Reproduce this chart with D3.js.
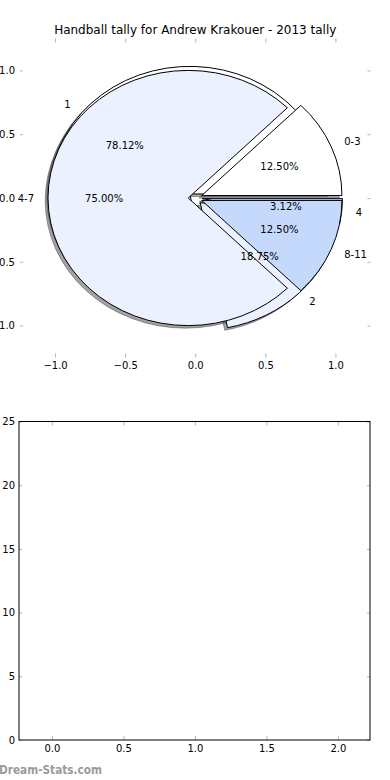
<!DOCTYPE html>
<html><head><meta charset="utf-8">
<script src="https://cdn.jsdelivr.net/npm/d3@7"></script>
<style>body{margin:0;background:#fff} svg{display:block} text{font-family:"DejaVu Sans",sans-serif}</style>
</head><body>
<script>
const title = "Handball tally for Andrew Krakouer - 2013 tally";
const pie1Labels = ["1", "2", "4"];
const pie1Values = [25, 6, 1];
const pie2Labels = ["0-3", "4-7", "8-11"];
const pie2Values = [4, 24, 4];
const pieColors = ["#FFFFFF", "#EBF1FE", "#C5D9FD"];
const pieTicks = [-1.0, -0.5, 0.0, 0.5, 1.0];
const barXTicks = [0.0, 0.5, 1.0, 1.5, 2.0];
const barYTicks = [0, 5, 10, 15, 20, 25];
const watermark = "Dream-Stats.com";

const W = 390, H = 780;
const svg = d3.select("body").append("svg").attr("width", W).attr("height", H);

// ---------- Pie axes ----------
const px = d3.scaleLinear().domain([-1.25, 1.25]).range([20, 370.5]);
const py = d3.scaleLinear().domain([-1.25, 1.25]).range([357.5, 38.5]);
const kx = px(1) - px(0), ky = py(0) - py(1);
const explode = 0.05, shadowOff = -0.02;

svg.append("text").attr("x", (px.range()[0] + px.range()[1]) / 2).attr("y", 34)
  .attr("text-anchor", "middle").attr("font-size", 12).text(title);

function fmtPct(p) {
  const s = p * 100, f = Math.floor(s);
  let r = Math.abs(s - f - 0.5) < 1e-9 ? (f % 2 === 0 ? f : f + 1) : Math.round(s);
  return (r / 100).toFixed(2) + "%";
}

const pieGen = d3.pie().sort(null).startAngle(Math.PI / 2).endAngle(Math.PI / 2 - 2 * Math.PI);
const arcGen = d3.arc().innerRadius(0).outerRadius(1);

function build(labels, values) {
  const total = d3.sum(values);
  return pieGen(values).map((a, i) => {
    const mid = (a.startAngle + a.endAngle) / 2;
    const ox = explode * Math.sin(mid), oy = explode * Math.cos(mid);
    return {a, i, label: labels[i], color: pieColors[i], mid, ox, oy, pct: fmtPct(100 * values[i] / total)};
  });
}
const pies = [build(pie1Labels, pie1Values), build(pie2Labels, pie2Values)];
const gPie = svg.append("g");

// shadows (below all wedges)
pies.forEach(p => {
  gPie.selectAll(null).data(p).join("path")
    .attr("d", d => arcGen(d.a))
    .attr("transform", d => `translate(${px(d.ox + shadowOff)},${py(d.oy + shadowOff)}) scale(${kx},${ky})`)
    .attr("fill", d => { const c = d3.rgb(d.color); return d3.rgb(c.r * 0.3, c.g * 0.3, c.b * 0.3); })
    .attr("fill-opacity", 0.5)
    .attr("stroke", d => { const c = d3.rgb(d.color); return d3.rgb(c.r * 0.3, c.g * 0.3, c.b * 0.3); })
    .attr("stroke-opacity", 0.5)
    .attr("stroke-width", 1)
    .attr("vector-effect", "non-scaling-stroke");
});
// wedges
pies.forEach(p => {
  gPie.selectAll(null).data(p).join("path")
    .attr("d", d => arcGen(d.a))
    .attr("transform", d => `translate(${px(d.ox)},${py(d.oy)}) scale(${kx},${ky})`)
    .attr("fill", d => d.color)
    .attr("stroke", "#000").attr("stroke-width", 1)
    .attr("stroke-linejoin", "miter")
    .attr("vector-effect", "non-scaling-stroke");
});
// texts
pies.forEach(p => {
  gPie.selectAll(null).data(p).join("text")
    .attr("x", d => px(d.ox + 1.1 * Math.sin(d.mid)))
    .attr("y", d => py(d.oy + 1.1 * Math.cos(d.mid)))
    .attr("dy", "0.35em").attr("font-size", 10)
    .attr("text-anchor", d => (d.ox + 1.1 * Math.sin(d.mid)) > 0 ? "start" : "end")
    .text(d => d.label);
  gPie.selectAll(null).data(p).join("text")
    .attr("x", d => px(d.ox + 0.6 * Math.sin(d.mid)))
    .attr("y", d => py(d.oy + 0.6 * Math.cos(d.mid)))
    .attr("dy", "0.35em").attr("font-size", 10).attr("text-anchor", "middle")
    .text(d => d.pct);
});

function styleAxis(g) {
  g.select(".domain").remove();
  g.selectAll(".tick line").attr("stroke", "#b5b5b5");
  g.selectAll(".tick text").attr("fill", "#000").attr("font-size", 10).attr("font-family", "DejaVu Sans");
}
const f1 = d3.format(".1f");
svg.append("g").attr("transform", `translate(0,${py.range()[0]})`)
  .call(d3.axisBottom(px).tickValues(pieTicks).tickSize(-4).tickPadding(4).tickFormat(f1)).call(styleAxis);
svg.append("g").attr("transform", `translate(0,${py.range()[1]})`)
  .call(d3.axisTop(px).tickValues(pieTicks).tickSize(-4).tickFormat("")).call(styleAxis);
svg.append("g").attr("transform", `translate(${px.range()[0]},0)`)
  .call(d3.axisLeft(py).tickValues(pieTicks).tickSize(-3).tickPadding(5).tickFormat(f1)).call(styleAxis);
svg.append("g").attr("transform", `translate(${px.range()[1]},0)`)
  .call(d3.axisRight(py).tickValues(pieTicks).tickSize(-3).tickFormat("")).call(styleAxis);

// ---------- Bottom empty axes ----------
const bx = d3.scaleLinear().domain([-0.23, 2.225]).range([19, 370]);
const by = d3.scaleLinear().domain([0, 25]).range([740, 421.5]);
svg.append("g").attr("transform", `translate(0,${by.range()[0]})`)
  .call(d3.axisBottom(bx).tickValues(barXTicks).tickSize(-4).tickPadding(5).tickFormat(f1)).call(styleAxis);
svg.append("g").attr("transform", `translate(0,${by.range()[1]})`)
  .call(d3.axisTop(bx).tickValues(barXTicks).tickSize(-4).tickFormat("")).call(styleAxis);
svg.append("g").attr("transform", `translate(${bx.range()[0]},0)`)
  .call(d3.axisLeft(by).tickValues(barYTicks).tickSize(-3).tickPadding(4).tickFormat(d3.format("d"))).call(styleAxis);
svg.append("g").attr("transform", `translate(${bx.range()[1]},0)`)
  .call(d3.axisRight(by).tickValues(barYTicks).tickSize(-3).tickFormat("")).call(styleAxis);
svg.append("rect").attr("x", bx.range()[0]).attr("y", by.range()[1])
  .attr("width", bx.range()[1] - bx.range()[0]).attr("height", by.range()[0] - by.range()[1])
  .attr("fill", "none").attr("stroke", "#000").attr("stroke-width", 1);

svg.append("text").attr("x", -1).attr("y", 774).attr("font-size", 12).attr("font-weight", "bold")
  .attr("fill", "#9a9a9a").attr("textLength", 103).attr("lengthAdjust", "spacingAndGlyphs").text(watermark);
</script>
</body></html>
